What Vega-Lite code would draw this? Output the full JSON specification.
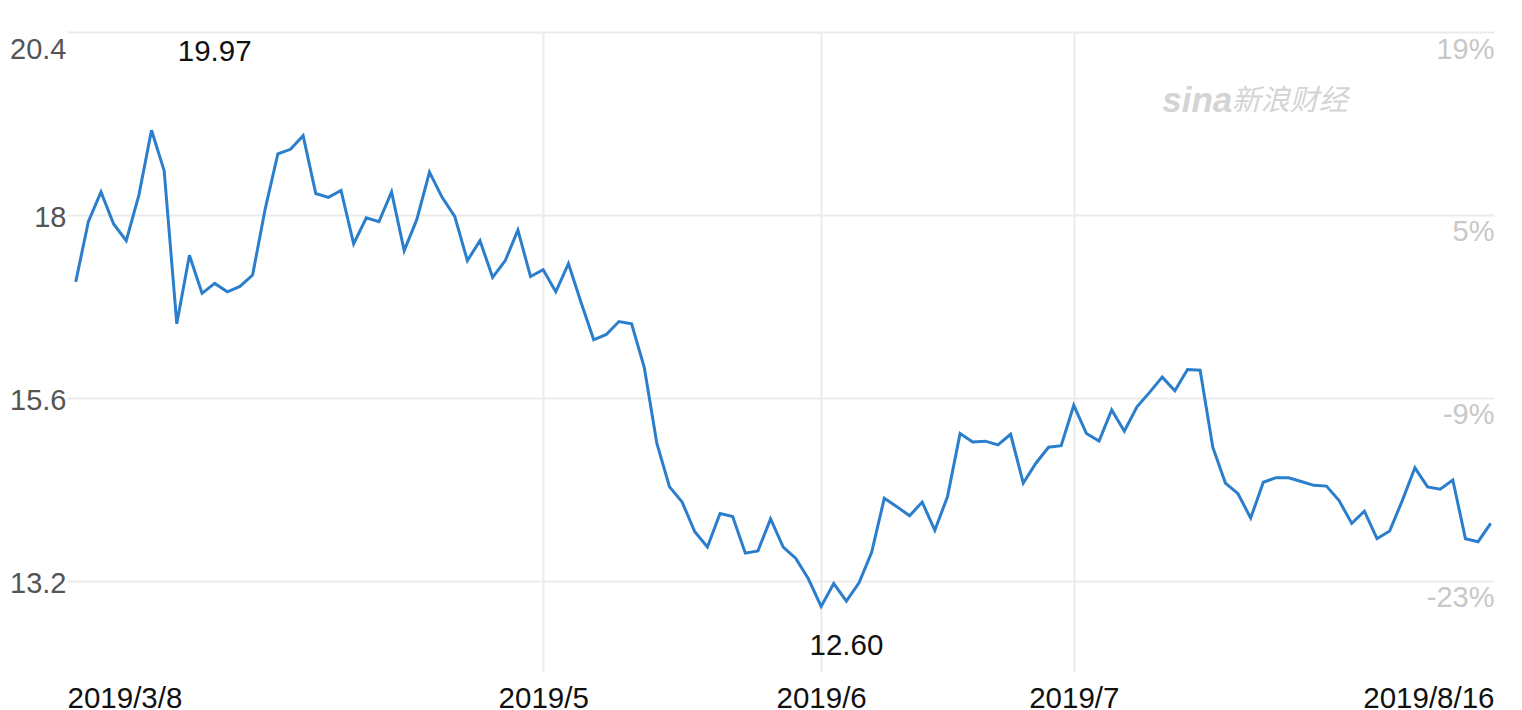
{
  "$schema": "https://vega.github.io/schema/vega-lite/v6.json",
  "width": 1427,
  "height": 640,
  "autosize": {"type": "none"},
  "padding": {"left": 67, "top": 32, "right": 28, "bottom": 38},
  "background": "white",
  "config": {
    "view": {"stroke": null},
    "font": "Liberation Sans",
    "axis": {"labelFont": "Liberation Sans", "titleFont": "Liberation Sans"}
  },
  "datasets": {
    "prices": [
      {"i": 0, "price": 17.12}, {"i": 1, "price": 17.91}, {"i": 2, "price": 18.30}, {"i": 3, "price": 17.88}, {"i": 4, "price": 17.66},
      {"i": 5, "price": 18.26}, {"i": 6, "price": 19.11}, {"i": 7, "price": 18.58}, {"i": 8, "price": 16.57}, {"i": 9, "price": 17.47},
      {"i": 10, "price": 16.97}, {"i": 11, "price": 17.10}, {"i": 12, "price": 16.99}, {"i": 13, "price": 17.06}, {"i": 14, "price": 17.21},
      {"i": 15, "price": 18.08}, {"i": 16, "price": 18.80}, {"i": 17, "price": 18.86}, {"i": 18, "price": 19.04}, {"i": 19, "price": 18.28},
      {"i": 20, "price": 18.23}, {"i": 21, "price": 18.32}, {"i": 22, "price": 17.62}, {"i": 23, "price": 17.96}, {"i": 24, "price": 17.91},
      {"i": 25, "price": 18.30}, {"i": 26, "price": 17.53}, {"i": 27, "price": 17.94}, {"i": 28, "price": 18.56}, {"i": 29, "price": 18.23},
      {"i": 30, "price": 17.98}, {"i": 31, "price": 17.40}, {"i": 32, "price": 17.66}, {"i": 33, "price": 17.18}, {"i": 34, "price": 17.40},
      {"i": 35, "price": 17.80}, {"i": 36, "price": 17.19}, {"i": 37, "price": 17.28}, {"i": 38, "price": 16.99}, {"i": 39, "price": 17.36},
      {"i": 40, "price": 16.85}, {"i": 41, "price": 16.36}, {"i": 42, "price": 16.43}, {"i": 43, "price": 16.60}, {"i": 44, "price": 16.57},
      {"i": 45, "price": 16.00}, {"i": 46, "price": 15.00}, {"i": 47, "price": 14.43}, {"i": 48, "price": 14.23}, {"i": 49, "price": 13.84},
      {"i": 50, "price": 13.64}, {"i": 51, "price": 14.08}, {"i": 52, "price": 14.04}, {"i": 53, "price": 13.56}, {"i": 54, "price": 13.59},
      {"i": 55, "price": 14.01}, {"i": 56, "price": 13.64}, {"i": 57, "price": 13.49}, {"i": 58, "price": 13.22}, {"i": 59, "price": 12.86},
      {"i": 60, "price": 13.16}, {"i": 61, "price": 12.93}, {"i": 62, "price": 13.17}, {"i": 63, "price": 13.57}, {"i": 64, "price": 14.28},
      {"i": 65, "price": 14.17}, {"i": 66, "price": 14.05}, {"i": 67, "price": 14.23}, {"i": 68, "price": 13.86}, {"i": 69, "price": 14.30},
      {"i": 70, "price": 15.13}, {"i": 71, "price": 15.02}, {"i": 72, "price": 15.03}, {"i": 73, "price": 14.98}, {"i": 74, "price": 15.12},
      {"i": 75, "price": 14.48}, {"i": 76, "price": 14.74}, {"i": 77, "price": 14.95}, {"i": 78, "price": 14.97}, {"i": 79, "price": 15.50},
      {"i": 80, "price": 15.13}, {"i": 81, "price": 15.03}, {"i": 82, "price": 15.44}, {"i": 83, "price": 15.16}, {"i": 84, "price": 15.48},
      {"i": 85, "price": 15.67}, {"i": 86, "price": 15.87}, {"i": 87, "price": 15.69}, {"i": 88, "price": 15.97}, {"i": 89, "price": 15.96},
      {"i": 90, "price": 14.95}, {"i": 91, "price": 14.48}, {"i": 92, "price": 14.34}, {"i": 93, "price": 14.02}, {"i": 94, "price": 14.49},
      {"i": 95, "price": 14.55}, {"i": 96, "price": 14.55}, {"i": 97, "price": 14.50}, {"i": 98, "price": 14.45}, {"i": 99, "price": 14.44},
      {"i": 100, "price": 14.25}, {"i": 101, "price": 13.95}, {"i": 102, "price": 14.11}, {"i": 103, "price": 13.75}, {"i": 104, "price": 13.85},
      {"i": 105, "price": 14.25}, {"i": 106, "price": 14.68}, {"i": 107, "price": 14.43}, {"i": 108, "price": 14.40}, {"i": 109, "price": 14.52},
      {"i": 110, "price": 13.75}, {"i": 111, "price": 13.71}, {"i": 112, "price": 13.95}
    ],
    "extremes": [
      {"i": 11, "price": 19.97, "label": "19.97", "kind": "high"},
      {"i": 61, "price": 12.60, "label": "12.60", "kind": "low"}
    ],
    "brand": [
      {"part": "logo", "text": "sina"},
      {"part": "name", "text": "新浪财经"}
    ]
  },
  "layer": [
    {
      "data": {"name": "prices"},
      "mark": {"type": "line", "color": "#2b7ecb", "strokeWidth": 3, "strokeJoin": "miter"},
      "encoding": {
        "x": {
          "field": "i", "type": "quantitative",
          "scale": {"domain": [-0.69, 112.26], "nice": false, "zero": false},
          "axis": {
            "title": null,
            "values": [-0.69, 37, 59, 79, 112.26],
            "labelExpr": "datum.value < 0 ? '2019/3/8' : datum.value == 37 ? '2019/5' : datum.value == 59 ? '2019/6' : datum.value == 79 ? '2019/7' : '2019/8/16'",
            "labelFlush": true,
            "labelOverlap": false,
            "labelFontSize": 29.5,
            "labelColor": "#111111",
            "labelPadding": 12,
            "labelBaseline": "top",
            "domain": false,
            "ticks": false,
            "tickSize": 0,
            "grid": true,
            "gridColor": "#ebebeb",
            "gridWidth": 2,
            "gridOpacity": {"condition": {"test": "datum.value < 0 || datum.value > 112", "value": 0}, "value": 1}
          }
        },
        "y": {
          "field": "price", "type": "quantitative",
          "scale": {"domain": [12.0, 20.4], "nice": false, "zero": false},
          "axis": {
            "title": null,
            "orient": "left",
            "values": [13.2, 15.6, 18, 20.4],
            "labelExpr": "datum.value == 18 ? '18' : format(datum.value, '.1f')",
            "labelFlush": true,
            "labelOffset": 3,
            "labelFontSize": 29,
            "labelColor": "#555555",
            "labelPadding": 1,
            "domain": false,
            "ticks": false,
            "tickSize": 0,
            "grid": true,
            "gridColor": "#ebebeb",
            "gridWidth": 2
          }
        }
      }
    },
    {
      "data": {"name": "extremes"},
      "transform": [{"filter": "datum.kind == 'high'"}],
      "mark": {"type": "text", "fontSize": 29.5, "color": "#111111", "align": "center", "baseline": "alphabetic", "dy": -4},
      "encoding": {
        "x": {"field": "i", "type": "quantitative"},
        "y": {
          "field": "price", "type": "quantitative",
          "scale": {"domain": [12.0, 20.4], "nice": false, "zero": false},
          "axis": {
            "title": null,
            "orient": "right",
            "values": [13.2, 15.6, 18, 20.4],
            "labelExpr": "replace(format(datum.value / 17.14 - 1, '.0%'), '\u2212', '-')",
            "labelAlign": "right",
            "labelBaseline": "top",
            "labelOffset": 3,
            "labelPadding": 0,
            "labelFlush": false,
            "labelFontSize": 29,
            "labelColor": "#c8c8c8",
            "domain": false,
            "ticks": false,
            "tickSize": 0,
            "grid": false
          }
        },
        "text": {"field": "label"}
      }
    },
    {
      "data": {"name": "extremes"},
      "transform": [{"filter": "datum.kind == 'low'"}],
      "mark": {"type": "text", "fontSize": 29.5, "color": "#111111", "align": "center", "baseline": "alphabetic", "dy": 29},
      "encoding": {
        "x": {"field": "i", "type": "quantitative"},
        "y": {
          "field": "price", "type": "quantitative",
          "scale": {"domain": [12.0, 20.4], "nice": false, "zero": false},
          "axis": null
        },
        "text": {"field": "label"}
      }
    },
    {
      "data": {"name": "brand"},
      "transform": [{"filter": "datum.part == 'logo'"}],
      "mark": {"type": "text", "fontSize": 35, "fontWeight": "bold", "fontStyle": "italic", "color": "#d4d4d4", "align": "left", "baseline": "middle", "font": "Liberation Sans"},
      "encoding": {
        "x": {"datum": 86},
        "y": {"datum": 19.5, "scale": {"domain": [12.0, 20.4], "nice": false, "zero": false}, "axis": null},
        "text": {"field": "text"}
      }
    },
    {
      "data": {"name": "brand"},
      "transform": [{"filter": "datum.part == 'name'"}],
      "mark": {"type": "text", "fontSize": 29, "fontStyle": "italic", "color": "#d4d4d4", "align": "left", "baseline": "middle", "font": "Noto Sans CJK SC"},
      "encoding": {
        "x": {"datum": 91.5},
        "y": {"datum": 19.5, "scale": {"domain": [12.0, 20.4], "nice": false, "zero": false}, "axis": null},
        "text": {"field": "text"}
      }
    }
  ],
  "resolve": {"scale": {"y": "independent"}}
}
